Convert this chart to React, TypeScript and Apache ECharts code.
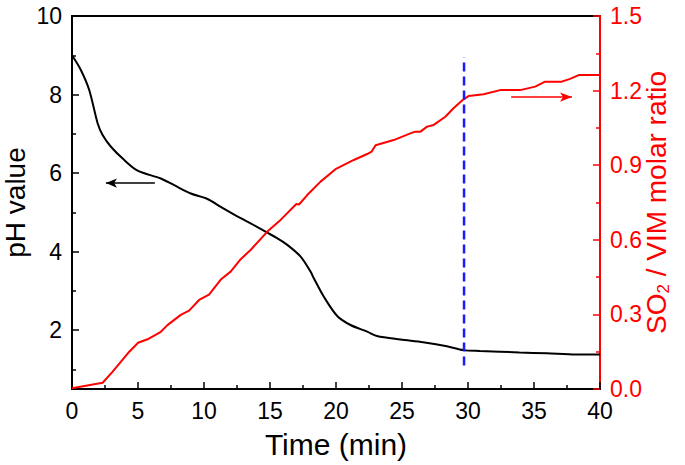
import React, { useEffect, useRef } from "react";
import * as echarts from "echarts";

// pH curve (left axis)
const phTime = [0, 0.68, 1.31, 1.94, 2.32, 2.95, 3.96, 4.97, 6.73, 7.74, 9.0, 10.26, 11.27, 12.78, 13.53, 14.8, 15.5, 16.31, 17.32, 18.07, 18.32, 19.08, 20.09, 21.1, 22.36, 23.1, 24.88, 26.6, 28.4, 29.66, 30.9, 33.9, 35.97, 38.2, 40];
const phValue = [9.0, 8.62, 8.11, 7.27, 6.97, 6.67, 6.33, 6.06, 5.86, 5.69, 5.48, 5.34, 5.14, 4.85, 4.72, 4.48, 4.35, 4.17, 3.87, 3.49, 3.32, 2.85, 2.36, 2.13, 1.96, 1.85, 1.76, 1.69, 1.59, 1.49, 1.47, 1.43, 1.41, 1.38, 1.38];

// SO2 / VIM molar ratio (right axis)
const ratioTime = [0, 2.32, 3.08, 3.71, 4.34, 5.01, 5.72, 6.73, 7.23, 8.24, 8.87, 9.63, 10.38, 11.27, 12.02, 12.78, 13.53, 14.8, 15.8, 17.0, 17.2, 17.82, 18.83, 19.96, 21.35, 22.36, 22.7, 23.0, 24.37, 25.63, 26.0, 26.4, 26.9, 27.4, 28.28, 28.9, 29.66, 30.04, 31.18, 32.44, 33.95, 35.09, 35.84, 37.1, 37.73, 38.43, 40];
const ratioValue = [0.003, 0.025, 0.07, 0.11, 0.15, 0.186, 0.2, 0.23, 0.257, 0.298, 0.315, 0.358, 0.38, 0.44, 0.472, 0.522, 0.559, 0.633, 0.68, 0.744, 0.742, 0.78, 0.834, 0.884, 0.921, 0.945, 0.955, 0.98, 1.001, 1.028, 1.035, 1.035, 1.055, 1.062, 1.095, 1.129, 1.165, 1.178, 1.185, 1.202, 1.202, 1.216, 1.236, 1.236, 1.247, 1.263, 1.263];

// Vertical dashed marker (pH units)
const markerTime = [29.7, 29.7];
const markerPH = [1.1, 8.95];

// Arrows
const phArrowTime = [6.28, 2.57];
const phArrowY = [5.745, 5.745];
const ratioArrowTime = [33.27, 37.88];
const ratioArrowY = [1.174, 1.174];

// Tick values
const phMajorTicks = [2, 4, 6, 8, 10];
const phMinorTicks = [1, 3, 5, 7, 9];

const FONT = "'Liberation Sans', Arial, Helvetica, sans-serif";
const RED = "#ff0000";

export default function App() {
  const ref = useRef<HTMLDivElement>(null);
  useEffect(() => {
    if (!ref.current) return;
    const chart = echarts.init(ref.current, null, { renderer: "svg" });
    const zip = (a: number[], b: number[]) => a.map((v, i) => [v, b[i]]);
    chart.setOption({
      animation: false,
      textStyle: { fontFamily: FONT },
      grid: {
        left: 72,
        right: 85,
        top: 16,
        bottom: 76,
        show: true,
        borderColor: "#000",
        borderWidth: 2,
        outerBoundsMode: "none",
      },
      xAxis: {
        type: "value",
        min: 0,
        max: 40,
        interval: 5,
        name: "Time (min)",
        nameLocation: "middle",
        nameGap: 40,
        nameMoveOverlap: false,
        nameTextStyle: { fontSize: 30, color: "#000", fontFamily: FONT },
        axisLine: { lineStyle: { color: "#000", width: 2 } },
        axisTick: { inside: true, length: 7, lineStyle: { color: "#000", width: 1.5 } },
        minorTick: { show: true, splitNumber: 2, length: 4, lineStyle: { color: "#000", width: 1.5 } },
        axisLabel: { fontSize: 23, color: "#000", margin: 10, fontFamily: FONT },
        splitLine: { show: false },
      },
      yAxis: [
        {
          type: "value",
          position: "left",
          min: 0.5,
          max: 10,
          name: "pH value",
          nameLocation: "middle",
          nameRotate: 90,
          nameGap: 43,
          nameMoveOverlap: false,
          nameTextStyle: { fontSize: 28, color: "#000", fontFamily: FONT },
          axisLine: { show: true, lineStyle: { color: "#000", width: 2 } },
          axisTick: {
            inside: true,
            length: 7,
            customValues: phMajorTicks,
            lineStyle: { color: "#000", width: 1.5 },
          },
          axisLabel: {
            fontSize: 23,
            color: "#000",
            margin: 10,
            customValues: phMajorTicks,
            fontFamily: FONT,
          },
          splitLine: { show: false },
        },
        {
          type: "value",
          position: "right",
          min: 0,
          max: 1.5,
          interval: 0.3,
          name: "SO{sub|2} / VIM molar ratio",
          nameLocation: "middle",
          nameRotate: 90,
          nameGap: 41,
          nameMoveOverlap: false,
          nameTextStyle: {
            fontSize: 28,
            color: RED,
            fontFamily: FONT,
            rich: {
              sub: { fontSize: 17, color: RED, fontFamily: FONT, verticalAlign: "bottom", padding: [14, 0, 0, 0] },
            },
          },
          axisLine: { show: true, lineStyle: { color: RED, width: 2 } },
          axisTick: { inside: true, length: 7, lineStyle: { color: RED, width: 1.5 } },
          minorTick: { show: true, splitNumber: 2, length: 4, lineStyle: { color: RED, width: 1.5 } },
          axisLabel: {
            fontSize: 23,
            color: RED,
            margin: 10,
            fontFamily: FONT,
            formatter: (v: number) => v.toFixed(1),
          },
          splitLine: { show: false },
        },
        {
          type: "value",
          position: "left",
          min: 0.5,
          max: 10,
          axisLine: { show: false },
          axisTick: {
            show: true,
            inside: true,
            length: 4,
            customValues: phMinorTicks,
            lineStyle: { color: "#000", width: 1.5 },
          },
          axisLabel: { show: false },
          splitLine: { show: false },
        },
      ],
      series: [
        {
          type: "line",
          yAxisIndex: 0,
          data: zip(phTime, phValue),
          showSymbol: false,
          smooth: 0.3,
          lineStyle: { color: "#000", width: 2 },
          z: 3,
          markLine: {
            silent: true,
            symbol: ["none", "arrow"],
            symbolSize: [7, 11],
            label: { show: false },
            lineStyle: { color: "#000", width: 1.5, type: "solid" },
            data: [[{ coord: [phArrowTime[0], phArrowY[0]] }, { coord: [phArrowTime[1], phArrowY[1]] }]],
          },
        },
        {
          type: "line",
          yAxisIndex: 1,
          data: zip(ratioTime, ratioValue),
          showSymbol: false,
          lineStyle: { color: RED, width: 2 },
          z: 3,
          markLine: {
            silent: true,
            symbol: ["none", "arrow"],
            symbolSize: [7, 12],
            label: { show: false },
            lineStyle: { color: RED, width: 1.5, type: "solid" },
            data: [[{ coord: [ratioArrowTime[0], ratioArrowY[0]] }, { coord: [ratioArrowTime[1], ratioArrowY[1]] }]],
          },
        },
        {
          type: "line",
          yAxisIndex: 0,
          data: zip(markerTime, markerPH),
          showSymbol: false,
          lineStyle: { color: "#1a1aff", width: 2.5, type: [9, 5] },
          z: 4,
        },
      ],
    });
    return () => chart.dispose();
  }, []);
  return (
    <div
      ref={ref}
      style={{ position: "absolute", left: 0, top: 0, width: 685, height: 465, background: "#fff" }}
    />
  );
}
